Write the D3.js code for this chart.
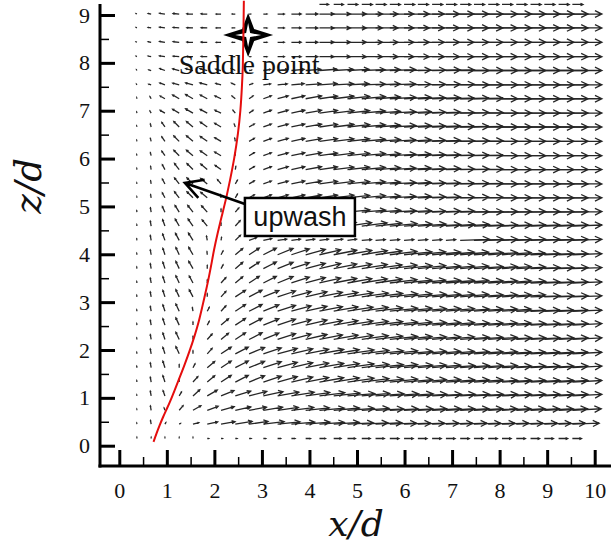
<!DOCTYPE html>
<html>
<head>
<meta charset="utf-8">
<script src="https://cdn.jsdelivr.net/npm/d3@7"></script>
<style>
  html, body { margin: 0; padding: 0; background: #fff; }
  svg { display: block; }
</style>
</head>
<body>
<script>
// ---- measurement grid (x/d across, z/d up) ----
const xStations = [0.37,0.67,0.96,1.26,1.55,1.85,2.14,2.44,2.73,3.03,3.33,3.62,3.92,4.21,4.51,4.80,
                   5.10,5.39,5.69,5.99,6.28,6.58,6.87,7.17,7.46,7.76,8.05,8.35,8.65,8.94,9.24,9.53];
const zStations = [0.15,0.45,0.74,1.04,1.33,1.63,1.92,2.22,2.52,2.81,3.11,3.40,3.70,3.99,4.29,4.59,
                   4.88,5.18,5.47,5.77,6.06,6.36,6.66,6.95,7.25,7.54,7.84,8.13,8.43,8.73,9.02,9.22];

// ---- velocity magnitude, % of free-stream (rows bottom -> top, columns left -> right) ----
const speedPct = [
  [4,4,4,4,4,5,5,6, 7,8,10,12,16,20,24,26, 28,29,30,30,30,30,30,30, 30,30,30,30,30,30,30,30],
  [4,12,6,5,20,35,47,56, 63,69,74,77,80,82,84,85, 86,87,88,88,88,88,88,88, 88,88,88,88,88,88,88,88],
  [4,14,8,20,30,38,45,52, 58,64,69,74,78,82,85,88, 90,92,93,94,95,95,95,95, 95,95,95,95,95,95,95,95],
  [4,16,18,15,30,38,46,53, 60,66,71,76,80,84,87,90, 92,94,95,96,96,97,97,97, 97,97,97,97,97,97,97,97],
  [5,16,22,10,24,32,40,48, 55,62,67,72,77,81,85,88, 90,92,92,94,94,94,96,96, 96,97,97,97,97,97,97,97],
  [5,16,22,10,14,32,40,48, 55,62,67,72,77,81,85,88, 90,92,92,94,94,94,96,96, 96,96,97,97,97,97,97,97],
  [5,16,22,26,10,24,40,48, 55,62,67,72,77,81,85,88, 90,92,92,94,94,94,94,96, 96,96,97,97,97,97,97,97],
  [5,16,22,26,10,24,32,40, 48,55,62,67,72,77,81,85, 88,90,92,92,94,94,94,96, 96,96,97,97,97,97,97,97],
  [5,16,22,26,10,14,32,40, 48,55,62,67,72,77,81,85, 88,90,92,92,94,94,94,96, 96,96,96,97,97,97,97,97],
  [5,16,22,26,12,14,24,40, 48,55,62,67,72,77,81,85, 88,90,92,92,94,94,94,96, 96,96,96,97,97,97,97,97],
  [5,16,22,26,26,10,24,40, 48,55,62,67,72,77,81,85, 88,90,92,92,94,94,94,94, 96,96,96,96,97,97,97,97],
  [5,16,22,26,26,10,24,32, 40,48,55,62,67,72,77,81, 85,88,90,92,92,94,94,94, 96,96,96,97,97,97,97,97],
  [5,16,22,26,28,10,14,32, 40,48,55,62,67,72,77,81, 85,88,90,92,92,94,94,94, 96,96,96,97,97,97,97,97],
  [5,16,22,26,28,10,14,32, 40,48,55,62,67,72,77,81, 85,88,90,92,92,94,94,94, 96,96,96,96,97,97,97,97],
  [5,16,22,26,28,14,10,24, 26,28,30,30,30,30,30,30, 32,32,32,32,32,32,32,97, 97,97,97,97,97,97,97,97],
  [5,16,22,26,28,26,10,24, 36,44,52,58,64,70,75,80, 84,87,90,92,93,94,95,96, 97,97,97,97,97,97,97,97],
  [5,14,20,26,28,28,10,18, 22,30,38,46,54,61,68,74, 79,83,87,90,92,93,94,95, 96,97,97,97,97,97,97,97],
  [4,10,18,25,28,28,10,14, 20,28,36,45,53,60,67,73, 78,82,86,89,91,93,94,95, 96,97,97,97,97,97,97,97],
  [4,10,18,25,28,28,18,14, 20,28,36,45,53,60,67,73, 78,82,86,89,91,93,94,95, 96,97,97,97,97,97,97,97],
  [4,10,18,25,28,28,24,10, 20,28,36,45,53,60,67,73, 78,82,86,89,91,93,94,95, 96,97,97,97,97,97,97,97],
  [4,10,18,25,28,28,24,10, 20,28,36,45,53,60,67,73, 78,82,86,89,91,93,94,95, 96,97,97,97,97,97,97,97],
  [4,10,18,25,28,28,24,10, 20,28,36,45,53,60,67,73, 78,82,86,89,91,93,94,95, 96,97,97,97,97,97,97,97],
  [4,10,18,25,28,28,24,10, 20,28,36,45,53,60,67,73, 78,82,86,89,91,93,94,95, 96,97,97,97,97,97,97,97],
  [4,8,18,25,28,26,22,12, 16,28,36,45,53,60,67,73, 78,82,86,89,91,93,94,95, 96,97,97,97,97,97,97,97],
  [4,8,18,25,28,26,22,14, 16,28,36,45,53,60,67,73, 78,82,86,89,91,93,94,95, 96,97,97,97,97,97,97,97],
  [3,8,18,22,25,25,18,14, 12,24,32,42,50,58,65,71, 77,81,85,88,91,93,94,95, 96,97,97,97,97,97,97,97],
  [3,8,18,22,25,25,18,14, 8,24,32,42,50,58,65,71, 77,81,85,88,91,93,94,95, 96,97,97,97,97,97,97,97],
  [3,10,18,20,20,20,16,10, 5,12,22,32,40,48,55,62, 68,74,79,83,87,90,92,94, 95,96,97,97,97,97,97,97],
  [3,10,18,20,20,20,16,10, 2,12,22,32,40,48,55,62, 68,74,79,83,87,90,92,94, 95,96,97,97,97,97,97,97],
  [3,10,18,20,20,20,16,10, 4,12,22,32,40,48,55,62, 68,74,79,83,87,90,92,94, 95,96,97,97,97,97,97,97],
  [3,10,18,20,20,20,16,10, 5,12,22,32,40,48,55,62, 68,74,79,83,87,90,92,94, 95,96,97,97,97,97,97,97],
  [0,0,0,0,0,0,0,0, 0,0,0,0,0,30,32,34, 35,35,35,35,35,35,35,35, 35,35,35,35,35,35,35,35]
];

// ---- flow direction, degrees counter-clockwise from +x ----
const angleDeg = [
  [90,90,90,90,90,0,0,0, 0,0,0,0,0,0,0,0, 0,0,0,0,0,0,0,0, 0,0,0,0,0,0,0,0],
  [95,100,60,30,15,12,10,9, 8,7,6,5,5,4,4,3, 3,3,2,2,2,2,2,2, 2,2,2,2,2,2,2,2],
  [95,100,110,50,30,20,15,12, 10,9,8,7,6,5,5,4, 4,3,3,3,3,3,3,3, 3,3,3,3,3,3,3,3],
  [95,100,110,60,42,30,22,17, 14,12,10,9,8,7,6,5, 5,4,4,4,3,3,3,3, 3,3,3,3,3,3,3,3],
  [95,100,108,90,48,40,33,27, 22,18,15,13,11,10,9,8, 7,6,6,5,5,5,4,4, 4,3,3,3,3,3,3,3],
  [95,100,108,90,62,40,33,27, 22,18,15,13,11,10,9,8, 7,6,6,5,5,5,4,4, 4,4,3,3,3,3,3,3],
  [95,100,108,115,90,48,33,27, 22,18,15,13,11,10,9,8, 7,6,6,5,5,5,5,4, 4,4,3,3,3,3,3,3],
  [95,100,108,115,90,48,40,33, 27,22,18,15,13,11,10,9, 8,7,6,6,5,5,5,4, 4,4,3,3,3,3,3,3],
  [95,100,108,115,90,62,40,33, 27,22,18,15,13,11,10,9, 8,7,6,6,5,5,5,4, 4,4,4,3,3,3,3,3],
  [95,100,108,115,100,62,48,33, 27,22,18,15,13,11,10,9, 8,7,6,6,5,5,5,4, 4,4,4,2,2,2,2,2],
  [95,100,108,115,118,90,48,33, 27,22,18,15,13,11,10,9, 8,7,6,6,5,5,5,5, 4,4,4,4,2,2,2,2],
  [95,100,108,115,118,90,48,40, 33,27,22,18,15,13,11,10, 9,8,7,6,6,5,5,5, 4,4,4,3,2,2,2,2],
  [95,100,108,115,120,90,62,40, 33,27,22,18,15,13,11,10, 9,8,7,6,6,5,5,5, 4,4,4,3,2,2,2,2],
  [95,100,108,115,120,95,62,40, 33,27,22,18,15,13,11,10, 9,8,7,6,6,5,5,5, 4,4,4,3,2,2,2,2],
  [95,100,110,118,122,100,80,45, 20,12,8,8,8,8,8,8, 5,5,5,5,5,5,5,2, 2,2,2,2,2,2,2,2],
  [95,100,110,120,125,130,90,48, 30,24,19,16,13,11,9,8, 7,6,5,4,4,3,3,3, 2,2,2,2,2,2,2,2],
  [95,100,115,122,128,132,90,50, 32,22,16,13,10,8,7,6, 5,4,3,3,2,2,2,1, 1,1,1,1,1,1,1,1],
  [95,100,118,128,135,140,100,60, 30,20,15,12,10,8,7,6, 5,4,3,3,2,2,1,1, 1,0,0,0,0,0,0,0],
  [95,100,118,128,135,140,130,60, 30,20,15,12,10,8,7,6, 5,4,3,3,2,2,1,1, 1,0,0,0,0,0,0,0],
  [95,100,118,128,135,140,145,80, 30,20,15,12,10,8,7,6, 5,4,3,3,2,2,1,1, 1,0,0,0,0,0,0,0],
  [100,105,125,135,140,145,150,90, 30,20,15,12,10,8,7,6, 5,4,3,3,2,2,1,1, 1,0,0,0,0,0,0,0],
  [100,105,125,135,140,145,150,100, 30,20,15,12,10,8,7,6, 5,4,3,3,2,2,1,1, 1,0,0,0,0,0,0,0],
  [100,105,125,135,140,145,150,110, 30,20,15,12,10,8,7,6, 5,4,3,3,2,2,1,1, 1,0,0,0,0,0,0,0],
  [100,120,150,150,150,152,155,130, 35,20,15,12,10,8,7,6, 5,4,3,3,2,2,1,1, 1,0,0,0,0,0,0,0],
  [100,120,150,150,150,152,155,140, 35,20,15,12,10,8,7,6, 5,4,3,3,2,2,1,1, 1,0,0,0,0,0,0,0],
  [120,165,160,165,165,165,165,155, 20,8,6,5,4,4,3,3, 2,2,2,1,1,1,1,0, 0,0,0,0,0,0,0,0],
  [120,165,160,165,165,165,165,155, 10,8,6,5,4,4,3,3, 2,2,2,1,1,1,1,0, 0,0,0,0,0,0,0,0],
  [150,170,172,175,178,178,180,180, 0,0,0,0,0,0,0,0, 0,0,0,0,0,0,0,0, 0,0,0,0,0,0,0,0],
  [150,170,172,175,178,178,180,180, 0,0,0,0,0,0,0,0, 0,0,0,0,0,0,0,0, 0,0,0,0,0,0,0,0],
  [150,170,172,175,178,178,180,180, 0,0,0,0,0,0,0,0, 0,0,0,0,0,0,0,0, 0,0,0,0,0,0,0,0],
  [150,170,172,175,178,178,180,180, 0,0,0,0,0,0,0,0, 0,0,0,0,0,0,0,0, 0,0,0,0,0,0,0,0],
  [0,0,0,0,0,0,0,0, 0,0,0,0,0,0,0,0, 0,0,0,0,0,0,0,0, 0,0,0,0,0,0,0,0]
];

// ---- wake-edge line (x/d, z/d) ----
const wakeEdge = [[0.72,0.08],[0.78,0.25],[0.85,0.43],[0.92,0.60],[1.00,0.77],[1.08,0.95],[1.16,1.15],
  [1.26,1.40],[1.37,1.68],[1.48,1.98],[1.58,2.28],[1.67,2.58],[1.74,2.88],[1.81,3.18],[1.87,3.45],
  [1.93,3.75],[1.99,4.09],[2.07,4.45],[2.15,4.78],[2.24,5.13],[2.33,5.55],[2.42,6.00],[2.50,6.53],
  [2.55,7.00],[2.58,7.50],[2.60,7.92],[2.61,8.50],[2.62,9.30]];

const saddle = { x: 2.71, z: 8.58, label: "Saddle point" };
const upwash = { x: 1.38, z: 5.49, label: "upwash" };

const xTicks = [0,1,2,3,4,5,6,7,8,9,10];
const zTicks = [0,1,2,3,4,5,6,7,8,9];
const xMinor = [0.5,1.5,2.5,3.5,4.5,5.5,6.5,7.5,8.5,9.5];
const zMinor = [0.5,1.5,2.5,3.5,4.5,5.5,6.5,7.5,8.5];

// ---- layout ----
const W = 612, H = 548;
const svg = d3.select("body").append("svg").attr("width", W).attr("height", H);
svg.append("rect").attr("width", W).attr("height", H).attr("fill", "#fff");

const x = d3.scaleLinear().domain([0, 10]).range([119.3, 594.7]);
const z = d3.scaleLinear().domain([0, 9]).range([445.7, 15]);
const VEC = 0.64;          // arrow length (in x/d) of a free-stream vector
const axisYpos = 466, axisXpos = 100;

// ---- vector field ----
const vecs = [];
zStations.forEach((zv, j) => xStations.forEach((xv, i) => {
  const s = speedPct[j][i] / 100;
  if (!s) return;
  const a = angleDeg[j][i] * Math.PI / 180;
  vecs.push({ x0: xv, z0: zv, x1: xv + VEC * s * Math.cos(a), z1: zv + VEC * s * Math.sin(a) });
}));

svg.append("g").attr("class", "vectors")
  .selectAll("path").data(vecs).join("path")
  .attr("d", d => {
    const px0 = x(d.x0), py0 = z(d.z0), px1 = x(d.x1), py1 = z(d.z1);
    const L = Math.hypot(px1 - px0, py1 - py0);
    const t = Math.atan2(py1 - py0, px1 - px0);
    const h = 0.26 * L, ha = 0.45;
    return `M${px0},${py0}L${px1},${py1}` +
      `M${px1 - h * Math.cos(t - ha)},${py1 - h * Math.sin(t - ha)}L${px1},${py1}` +
      `L${px1 - h * Math.cos(t + ha)},${py1 - h * Math.sin(t + ha)}`;
  })
  .attr("fill", "none")
  .attr("stroke", "#262626")
  .attr("stroke-width", 1.3);

// ---- axes ----
const tickFont = "'Liberation Serif', 'Times New Roman', serif";

const gx = svg.append("g").attr("transform", `translate(0,${axisYpos})`)
  .call(d3.axisBottom(x).tickValues(xTicks).tickSizeInner(-16).tickSizeOuter(0).tickPadding(16).tickFormat(d3.format("d")));
gx.select(".domain").remove();
gx.selectAll(".tick line").attr("stroke", "#000").attr("stroke-width", 3);
gx.selectAll(".tick text").attr("font-family", tickFont).attr("font-size", 22).attr("fill", "#111");

const gxm = svg.append("g").attr("transform", `translate(0,${axisYpos})`)
  .call(d3.axisBottom(x).tickValues(xMinor).tickSizeInner(-9).tickSizeOuter(0).tickFormat(""));
gxm.select(".domain").remove();
gxm.selectAll(".tick line").attr("stroke", "#000").attr("stroke-width", 1.5);

const gy = svg.append("g").attr("transform", `translate(${axisXpos},0)`)
  .call(d3.axisLeft(z).tickValues(zTicks).tickSizeInner(-15).tickSizeOuter(0).tickPadding(10).tickFormat(d3.format("d")));
gy.select(".domain").remove();
gy.selectAll(".tick line").attr("stroke", "#000").attr("stroke-width", 3);
gy.selectAll(".tick text").attr("font-family", tickFont).attr("font-size", 22).attr("fill", "#111");

const gym = svg.append("g").attr("transform", `translate(${axisXpos},0)`)
  .call(d3.axisLeft(z).tickValues(zMinor).tickSizeInner(-9).tickSizeOuter(0).tickFormat(""));
gym.select(".domain").remove();
gym.selectAll(".tick line").attr("stroke", "#000").attr("stroke-width", 1.5);

svg.append("line").attr("x1", axisXpos).attr("y1", 4).attr("x2", axisXpos).attr("y2", axisYpos + 1.5)
  .attr("stroke", "#000").attr("stroke-width", 3);
svg.append("line").attr("x1", axisXpos - 1.5).attr("y1", axisYpos).attr("x2", 611).attr("y2", axisYpos)
  .attr("stroke", "#000").attr("stroke-width", 3);

// axis titles
const mathFont = "'DejaVu Serif', serif";
svg.append("text").attr("x", 356).attr("y", 536).attr("text-anchor", "middle")
  .attr("font-family", mathFont).attr("font-style", "italic").attr("font-size", 36).attr("fill", "#111")
  .text("x/d");
svg.append("text").attr("transform", "translate(41,186) rotate(-90)").attr("text-anchor", "middle")
  .attr("font-family", mathFont).attr("font-style", "italic").attr("font-size", 37).attr("fill", "#111")
  .text("z/d");

// ---- saddle-point marker ----
const sx = x(saddle.x), sz = z(saddle.z);
svg.append("path")
  .attr("transform", `translate(${sx},${sz})`)
  .attr("d", "M0,-22L6,-6L25,0L6,6L0,22L-6,6L-25,0L-6,-6Z")
  .attr("fill", "#000");
svg.append("path")
  .attr("transform", `translate(${sx},${sz})`)
  .attr("d", "M0,-12L2,-2L13,0L2,2L0,12L-2,2L-13,0L-2,-2Z")
  .attr("fill", "#fff");

// ---- wake edge ----
svg.append("path").datum(wakeEdge)
  .attr("d", d3.line().x(d => x(d[0])).y(d => z(d[1])).curve(d3.curveBasis))
  .attr("fill", "none").attr("stroke", "#e50d0d").attr("stroke-width", 2);

svg.append("text").attr("x", sx + 1).attr("y", sz + 39).attr("text-anchor", "middle")
  .attr("font-family", tickFont).attr("font-size", 28).attr("fill", "#111")
  .text(saddle.label);

// ---- upwash callout ----
const ux = x(upwash.x), uz = z(upwash.z);
const box = { x: ux + 60, y: uz + 15, w: 110, h: 38 };
const sx0 = box.x, sy0 = box.y + 6;
const ang = Math.atan2(uz - sy0, ux - sx0);
const hl = 20, hw = 0.5;
svg.append("path")
  .attr("d", `M${sx0},${sy0}L${ux},${uz}` +
    `M${ux - hl * Math.cos(ang - hw)},${uz - hl * Math.sin(ang - hw)}L${ux},${uz}` +
    `L${ux - hl * Math.cos(ang + hw)},${uz - hl * Math.sin(ang + hw)}`)
  .attr("fill", "none").attr("stroke", "#000").attr("stroke-width", 2.6);
svg.append("rect").attr("x", box.x).attr("y", box.y).attr("width", box.w).attr("height", box.h)
  .attr("fill", "#fff").attr("stroke", "#000").attr("stroke-width", 2.5);
svg.append("text").attr("x", box.x + box.w / 2).attr("y", box.y + 28).attr("text-anchor", "middle")
  .attr("font-family", "'Liberation Sans', Arial, sans-serif").attr("font-size", 27).attr("fill", "#111")
  .text(upwash.label);
</script>
</body>
</html>
